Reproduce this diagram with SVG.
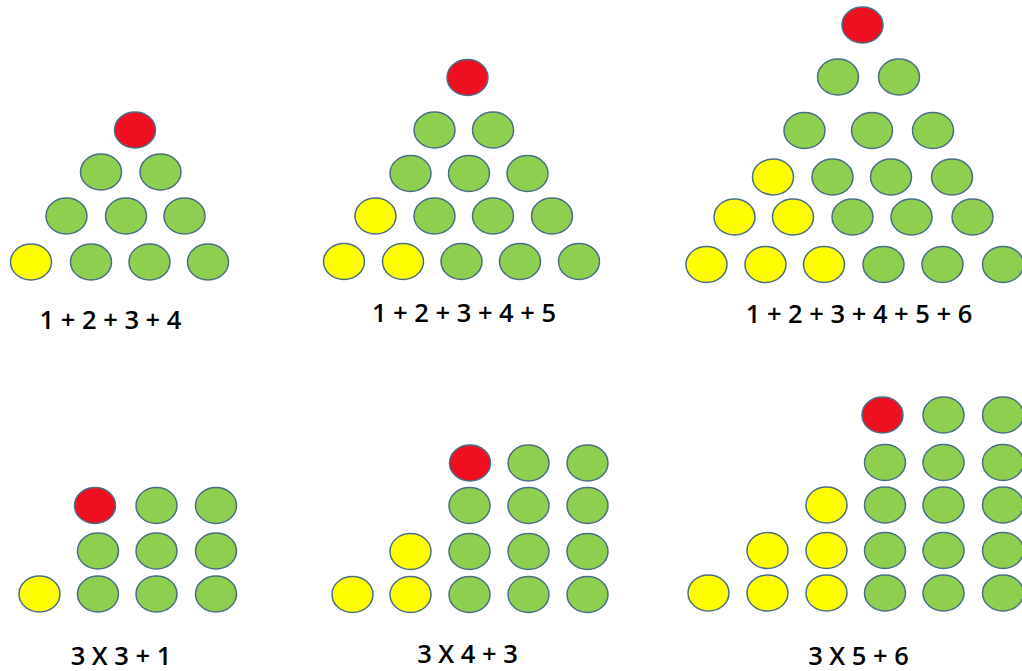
<svg xmlns="http://www.w3.org/2000/svg" width="1022" height="671" viewBox="0 0 1022 671">
<style>
ellipse{stroke:#4A6E86;stroke-width:1.5}
.g{fill:#8FCF50}
.y{fill:#FFFF00}
.r{fill:#EE1020}
text{font-family:"Open Sans","Liberation Sans",sans-serif;font-size:25.5px;font-weight:600;fill:#000;text-anchor:middle}
</style>
<rect width="1022" height="671" fill="#fff"/>
<g id="panel1">
<ellipse class="r" cx="135" cy="130" rx="20.5" ry="18"/>
<ellipse class="g" cx="101" cy="172" rx="20.5" ry="18"/>
<ellipse class="g" cx="160.5" cy="172" rx="20.5" ry="18"/>
<ellipse class="g" cx="66.5" cy="216" rx="20.5" ry="18"/>
<ellipse class="g" cx="126" cy="216" rx="20.5" ry="18"/>
<ellipse class="g" cx="184.5" cy="216" rx="20.5" ry="18"/>
<ellipse class="y" cx="31" cy="262" rx="20.5" ry="18"/>
<ellipse class="g" cx="91" cy="262" rx="20.5" ry="18"/>
<ellipse class="g" cx="149.5" cy="262" rx="20.5" ry="18"/>
<ellipse class="g" cx="208" cy="262" rx="20.5" ry="18"/>
<text x="110.5" y="329">1 + 2 + 3 + 4</text>
</g>
<g id="panel2">
<ellipse class="r" cx="467.5" cy="77.5" rx="20.5" ry="18"/>
<ellipse class="g" cx="434.5" cy="130" rx="20.5" ry="18"/>
<ellipse class="g" cx="493" cy="130" rx="20.5" ry="18"/>
<ellipse class="g" cx="410.5" cy="173.5" rx="20.5" ry="18"/>
<ellipse class="g" cx="469" cy="173.5" rx="20.5" ry="18"/>
<ellipse class="g" cx="527.5" cy="173.5" rx="20.5" ry="18"/>
<ellipse class="y" cx="375.5" cy="216" rx="20.5" ry="18"/>
<ellipse class="g" cx="434.5" cy="216" rx="20.5" ry="18"/>
<ellipse class="g" cx="493" cy="216" rx="20.5" ry="18"/>
<ellipse class="g" cx="552" cy="216" rx="20.5" ry="18"/>
<ellipse class="y" cx="344" cy="261.5" rx="20.5" ry="18"/>
<ellipse class="y" cx="403" cy="261.5" rx="20.5" ry="18"/>
<ellipse class="g" cx="461.5" cy="261.5" rx="20.5" ry="18"/>
<ellipse class="g" cx="520" cy="261.5" rx="20.5" ry="18"/>
<ellipse class="g" cx="579" cy="261.5" rx="20.5" ry="18"/>
<text x="464" y="322">1 + 2 + 3 + 4 + 5</text>
</g>
<g id="panel3">
<ellipse class="r" cx="862.5" cy="25" rx="20.5" ry="18"/>
<ellipse class="g" cx="838" cy="77" rx="20.5" ry="18"/>
<ellipse class="g" cx="899" cy="77" rx="20.5" ry="18"/>
<ellipse class="g" cx="804.5" cy="130.5" rx="20.5" ry="18"/>
<ellipse class="g" cx="872" cy="130.5" rx="20.5" ry="18"/>
<ellipse class="g" cx="933" cy="130.5" rx="20.5" ry="18"/>
<ellipse class="y" cx="773" cy="177" rx="20.5" ry="18"/>
<ellipse class="g" cx="832.5" cy="177" rx="20.5" ry="18"/>
<ellipse class="g" cx="891" cy="177" rx="20.5" ry="18"/>
<ellipse class="g" cx="952" cy="177" rx="20.5" ry="18"/>
<ellipse class="y" cx="734.5" cy="217" rx="20.5" ry="18"/>
<ellipse class="y" cx="793" cy="217" rx="20.5" ry="18"/>
<ellipse class="g" cx="852.5" cy="217" rx="20.5" ry="18"/>
<ellipse class="g" cx="911.5" cy="217" rx="20.5" ry="18"/>
<ellipse class="g" cx="972.5" cy="217" rx="20.5" ry="18"/>
<ellipse class="y" cx="706.5" cy="264.5" rx="20.5" ry="18"/>
<ellipse class="y" cx="765.5" cy="264.5" rx="20.5" ry="18"/>
<ellipse class="y" cx="824" cy="264.5" rx="20.5" ry="18"/>
<ellipse class="g" cx="883.5" cy="264.5" rx="20.5" ry="18"/>
<ellipse class="g" cx="942.5" cy="264.5" rx="20.5" ry="18"/>
<ellipse class="g" cx="1003" cy="264.5" rx="20.5" ry="18"/>
<text x="859" y="323">1 + 2 + 3 + 4 + 5 + 6</text>
</g>
<g id="panel4">
<ellipse class="r" cx="95" cy="505.5" rx="20.5" ry="18"/>
<ellipse class="g" cx="156.5" cy="505.5" rx="20.5" ry="18"/>
<ellipse class="g" cx="216" cy="505.5" rx="20.5" ry="18"/>
<ellipse class="g" cx="98" cy="551" rx="20.5" ry="18"/>
<ellipse class="g" cx="156.5" cy="551" rx="20.5" ry="18"/>
<ellipse class="g" cx="216" cy="551" rx="20.5" ry="18"/>
<ellipse class="y" cx="39.5" cy="594" rx="20.5" ry="18"/>
<ellipse class="g" cx="98" cy="594" rx="20.5" ry="18"/>
<ellipse class="g" cx="156.5" cy="594" rx="20.5" ry="18"/>
<ellipse class="g" cx="216" cy="594" rx="20.5" ry="18"/>
<text x="121" y="665">3 X 3 + 1</text>
</g>
<g id="panel5">
<ellipse class="r" cx="470" cy="463" rx="20.5" ry="18"/>
<ellipse class="g" cx="528.5" cy="463" rx="20.5" ry="18"/>
<ellipse class="g" cx="587.5" cy="463" rx="20.5" ry="18"/>
<ellipse class="g" cx="469.5" cy="505.5" rx="20.5" ry="18"/>
<ellipse class="g" cx="528.5" cy="505.5" rx="20.5" ry="18"/>
<ellipse class="g" cx="587.5" cy="505.5" rx="20.5" ry="18"/>
<ellipse class="y" cx="410.5" cy="551.5" rx="20.5" ry="18"/>
<ellipse class="g" cx="469.5" cy="551.5" rx="20.5" ry="18"/>
<ellipse class="g" cx="528.5" cy="551.5" rx="20.5" ry="18"/>
<ellipse class="g" cx="587.5" cy="551.5" rx="20.5" ry="18"/>
<ellipse class="y" cx="352.5" cy="594.5" rx="20.5" ry="18"/>
<ellipse class="y" cx="410.5" cy="594.5" rx="20.5" ry="18"/>
<ellipse class="g" cx="469.5" cy="594.5" rx="20.5" ry="18"/>
<ellipse class="g" cx="528.5" cy="594.5" rx="20.5" ry="18"/>
<ellipse class="g" cx="587.5" cy="594.5" rx="20.5" ry="18"/>
<text x="467.5" y="663">3 X 4 + 3</text>
</g>
<g id="panel6">
<ellipse class="r" cx="882.5" cy="415" rx="20.5" ry="18"/>
<ellipse class="g" cx="943.5" cy="415" rx="20.5" ry="18"/>
<ellipse class="g" cx="1003" cy="415" rx="20.5" ry="18"/>
<ellipse class="g" cx="885" cy="462.5" rx="20.5" ry="18"/>
<ellipse class="g" cx="943.5" cy="462.5" rx="20.5" ry="18"/>
<ellipse class="g" cx="1003" cy="462.5" rx="20.5" ry="18"/>
<ellipse class="y" cx="826.5" cy="505" rx="20.5" ry="18"/>
<ellipse class="g" cx="885" cy="505" rx="20.5" ry="18"/>
<ellipse class="g" cx="943.5" cy="505" rx="20.5" ry="18"/>
<ellipse class="g" cx="1003" cy="505" rx="20.5" ry="18"/>
<ellipse class="y" cx="767.5" cy="550.5" rx="20.5" ry="18"/>
<ellipse class="y" cx="826.5" cy="550.5" rx="20.5" ry="18"/>
<ellipse class="g" cx="885" cy="550.5" rx="20.5" ry="18"/>
<ellipse class="g" cx="943.5" cy="550.5" rx="20.5" ry="18"/>
<ellipse class="g" cx="1003" cy="550.5" rx="20.5" ry="18"/>
<ellipse class="y" cx="708.5" cy="593" rx="20.5" ry="18"/>
<ellipse class="y" cx="767.5" cy="593" rx="20.5" ry="18"/>
<ellipse class="y" cx="826.5" cy="593" rx="20.5" ry="18"/>
<ellipse class="g" cx="885" cy="593" rx="20.5" ry="18"/>
<ellipse class="g" cx="943.5" cy="593" rx="20.5" ry="18"/>
<ellipse class="g" cx="1003" cy="593" rx="20.5" ry="18"/>
<text x="858.5" y="665">3 X 5 + 6</text>
</g>
</svg>
